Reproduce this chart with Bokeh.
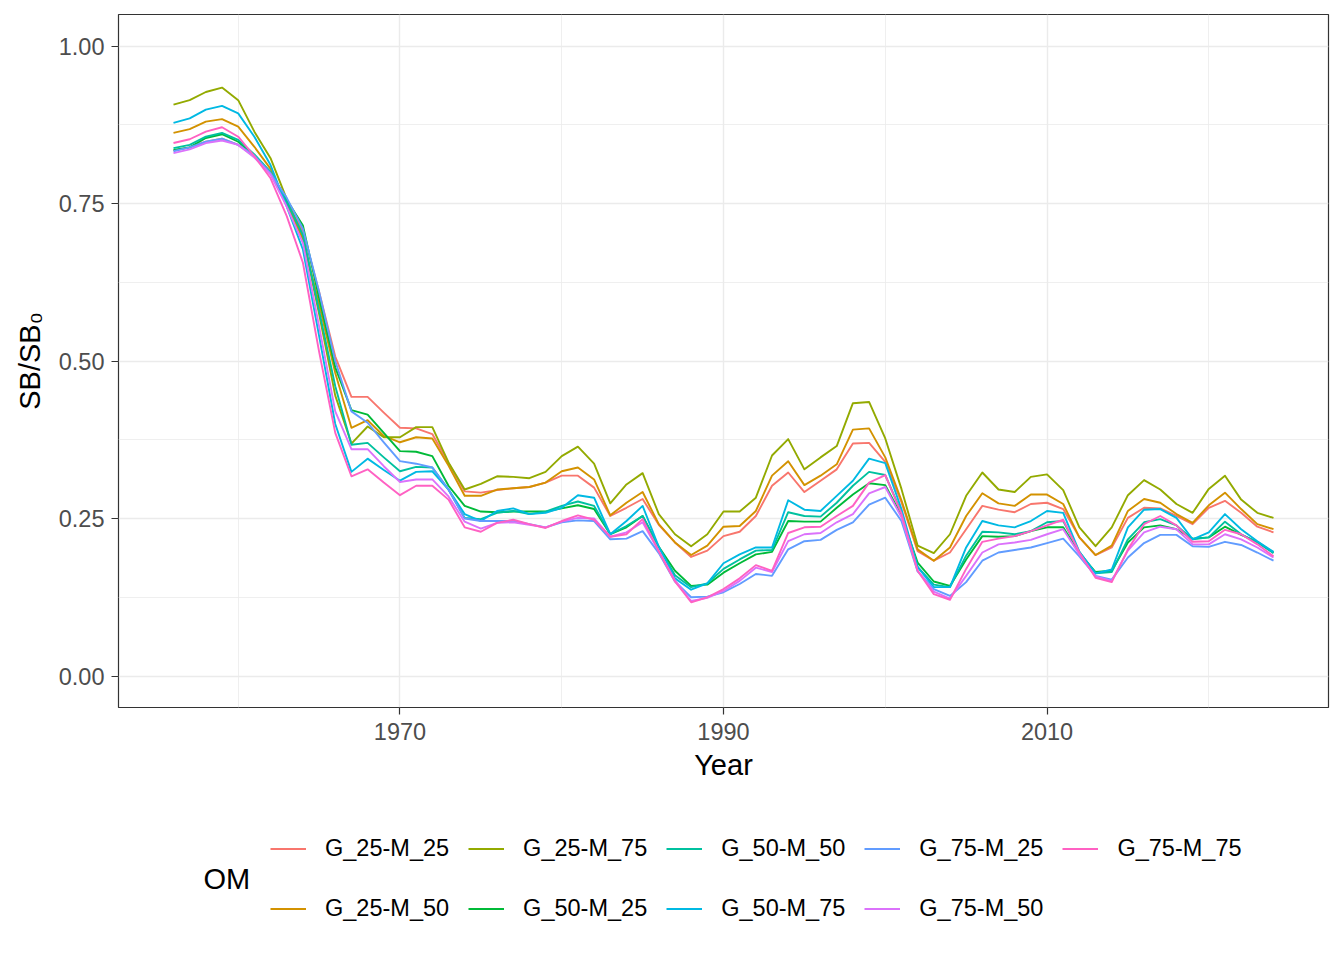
from bokeh.plotting import figure
from bokeh.models import (Range1d, FixedTicker, NumeralTickFormatter, Legend, LegendItem, Label)
from bokeh.layouts import column
from bokeh.embed import file_html
from bokeh.resources import INLINE

years = list(range(1956, 2025))

om_names = ["G_25-M_25", "G_25-M_50", "G_25-M_75", "G_50-M_25", "G_50-M_50",
            "G_50-M_75", "G_75-M_25", "G_75-M_50", "G_75-M_75"]
om_colors = ["#F8766D", "#D39200", "#93AA00", "#00BA38", "#00C19F",
             "#00B9E3", "#619CFF", "#DB72FB", "#FF61C3"]

g25_m25 = [0.834, 0.839, 0.848, 0.853, 0.843, 0.825, 0.797, 0.752, 0.706, 0.610,
           0.507, 0.443, 0.443, 0.418, 0.394, 0.393, 0.384, 0.338, 0.293, 0.291,
           0.295, 0.298, 0.300, 0.307, 0.318, 0.318, 0.299, 0.254, 0.267, 0.281,
           0.240, 0.212, 0.189, 0.199, 0.222, 0.229, 0.254, 0.302, 0.323, 0.292,
           0.310, 0.328, 0.369, 0.370, 0.340, 0.276, 0.198, 0.183, 0.196, 0.233,
           0.270, 0.264, 0.260, 0.273, 0.275, 0.265, 0.220, 0.192, 0.204, 0.251,
           0.267, 0.266, 0.254, 0.241, 0.267, 0.278, 0.259, 0.237, 0.228]
g25_m50 = [0.862, 0.868, 0.880, 0.884, 0.872, 0.840, 0.805, 0.750, 0.693, 0.590,
           0.481, 0.394, 0.406, 0.381, 0.371, 0.379, 0.377, 0.334, 0.286, 0.286,
           0.296, 0.298, 0.300, 0.307, 0.325, 0.331, 0.312, 0.255, 0.275, 0.292,
           0.241, 0.212, 0.192, 0.207, 0.237, 0.238, 0.262, 0.318, 0.341, 0.303,
           0.318, 0.336, 0.391, 0.393, 0.347, 0.279, 0.201, 0.183, 0.204, 0.254,
           0.290, 0.274, 0.270, 0.288, 0.288, 0.273, 0.220, 0.192, 0.207, 0.262,
           0.281, 0.275, 0.257, 0.243, 0.271, 0.291, 0.265, 0.241, 0.233]
g25_m75 = [0.907, 0.914, 0.927, 0.934, 0.914, 0.864, 0.822, 0.757, 0.698, 0.575,
           0.445, 0.369, 0.396, 0.379, 0.379, 0.395, 0.395, 0.339, 0.296, 0.305,
           0.317, 0.316, 0.314, 0.324, 0.349, 0.364, 0.337, 0.274, 0.304, 0.322,
           0.257, 0.225, 0.206, 0.225, 0.261, 0.261, 0.283, 0.350, 0.376, 0.328,
           0.347, 0.365, 0.433, 0.435, 0.377, 0.297, 0.207, 0.195, 0.225, 0.286,
           0.323, 0.296, 0.292, 0.316, 0.320, 0.295, 0.236, 0.206, 0.236, 0.287,
           0.311, 0.296, 0.273, 0.259, 0.297, 0.318, 0.280, 0.259, 0.251]
g50_m25 = [0.835, 0.839, 0.854, 0.860, 0.848, 0.826, 0.798, 0.756, 0.715, 0.600,
           0.490, 0.422, 0.415, 0.386, 0.357, 0.356, 0.349, 0.302, 0.270, 0.261,
           0.260, 0.261, 0.261, 0.261, 0.266, 0.271, 0.265, 0.225, 0.236, 0.254,
           0.205, 0.167, 0.143, 0.145, 0.164, 0.179, 0.193, 0.197, 0.246, 0.245,
           0.245, 0.267, 0.288, 0.306, 0.303, 0.255, 0.180, 0.150, 0.143, 0.185,
           0.222, 0.221, 0.222, 0.230, 0.236, 0.236, 0.195, 0.165, 0.167, 0.212,
           0.236, 0.239, 0.233, 0.218, 0.220, 0.237, 0.224, 0.213, 0.196]
g50_m50 = [0.838, 0.843, 0.856, 0.862, 0.851, 0.828, 0.800, 0.752, 0.700, 0.580,
           0.460, 0.367, 0.370, 0.347, 0.325, 0.332, 0.331, 0.296, 0.251, 0.249,
           0.259, 0.262, 0.257, 0.261, 0.270, 0.277, 0.270, 0.225, 0.238, 0.254,
           0.205, 0.160, 0.141, 0.147, 0.170, 0.185, 0.199, 0.200, 0.260, 0.254,
           0.253, 0.275, 0.302, 0.324, 0.319, 0.260, 0.173, 0.145, 0.141, 0.191,
           0.229, 0.228, 0.225, 0.230, 0.244, 0.246, 0.197, 0.163, 0.165, 0.217,
           0.244, 0.249, 0.239, 0.217, 0.220, 0.245, 0.225, 0.212, 0.195]
g50_m75 = [0.878, 0.885, 0.899, 0.905, 0.893, 0.856, 0.811, 0.745, 0.677, 0.540,
           0.400, 0.324, 0.345, 0.327, 0.310, 0.324, 0.325, 0.296, 0.257, 0.246,
           0.262, 0.266, 0.257, 0.259, 0.267, 0.287, 0.283, 0.225, 0.246, 0.270,
           0.205, 0.155, 0.137, 0.147, 0.179, 0.193, 0.204, 0.204, 0.279, 0.264,
           0.262, 0.286, 0.310, 0.345, 0.338, 0.265, 0.173, 0.141, 0.141, 0.204,
           0.246, 0.239, 0.236, 0.246, 0.262, 0.259, 0.197, 0.163, 0.169, 0.236,
           0.264, 0.265, 0.251, 0.217, 0.228, 0.257, 0.233, 0.214, 0.197]
g75_m25 = [0.833, 0.839, 0.848, 0.853, 0.843, 0.826, 0.798, 0.759, 0.710, 0.610,
           0.500, 0.420, 0.402, 0.371, 0.341, 0.337, 0.331, 0.296, 0.250, 0.246,
           0.246, 0.246, 0.241, 0.236, 0.244, 0.247, 0.246, 0.217, 0.218, 0.230,
           0.195, 0.150, 0.125, 0.126, 0.133, 0.146, 0.162, 0.159, 0.201, 0.214,
           0.216, 0.232, 0.244, 0.272, 0.283, 0.246, 0.166, 0.138, 0.127, 0.149,
           0.183, 0.196, 0.200, 0.204, 0.211, 0.218, 0.190, 0.159, 0.153, 0.188,
           0.211, 0.224, 0.224, 0.206, 0.205, 0.213, 0.208, 0.196, 0.183]
g75_m50 = [0.830, 0.836, 0.846, 0.850, 0.843, 0.823, 0.796, 0.745, 0.687, 0.555,
           0.420, 0.360, 0.360, 0.333, 0.308, 0.312, 0.312, 0.285, 0.245, 0.234,
           0.243, 0.244, 0.240, 0.236, 0.245, 0.251, 0.250, 0.221, 0.228, 0.244,
           0.198, 0.152, 0.119, 0.124, 0.135, 0.151, 0.172, 0.165, 0.214, 0.225,
           0.227, 0.244, 0.257, 0.290, 0.300, 0.252, 0.167, 0.134, 0.123, 0.159,
           0.196, 0.209, 0.212, 0.216, 0.225, 0.233, 0.193, 0.158, 0.151, 0.199,
           0.228, 0.237, 0.233, 0.209, 0.209, 0.225, 0.217, 0.204, 0.188]
g75_m75 = [0.846, 0.852, 0.864, 0.871, 0.856, 0.825, 0.790, 0.730, 0.656, 0.515,
           0.386, 0.317, 0.328, 0.307, 0.287, 0.302, 0.302, 0.280, 0.236, 0.229,
           0.243, 0.248, 0.241, 0.235, 0.246, 0.255, 0.248, 0.221, 0.225, 0.249,
           0.198, 0.150, 0.117, 0.125, 0.138, 0.155, 0.176, 0.167, 0.227, 0.236,
           0.237, 0.254, 0.270, 0.307, 0.319, 0.258, 0.167, 0.130, 0.121, 0.170,
           0.213, 0.218, 0.222, 0.230, 0.239, 0.248, 0.196, 0.156, 0.149, 0.201,
           0.241, 0.254, 0.239, 0.213, 0.214, 0.232, 0.225, 0.209, 0.190]

series = [g25_m25, g25_m50, g25_m75, g50_m25, g50_m50, g50_m75, g75_m25, g75_m50, g75_m75]

x_major = [1970, 1990, 2010]
x_minor = [1960, 1980, 2000, 2020]
y_major = [0.0, 0.25, 0.5, 0.75, 1.0]
y_minor = [0.125, 0.375, 0.625, 0.875]

FONT = "Liberation Sans"
W = 1336

p = figure(width=W, height=800, output_backend="svg", toolbar_location=None,
           x_range=Range1d(1952.6, 2027.4), y_range=Range1d(-0.05, 1.05),
           min_border_left=118, min_border_right=8, min_border_top=14, min_border_bottom=93)
p.background_fill_color = "white"
p.border_fill_color = "white"
p.outline_line_color = "#333333"
p.outline_line_width = 1.2

p.xaxis.ticker = FixedTicker(ticks=x_major, minor_ticks=x_minor)
p.yaxis.ticker = FixedTicker(ticks=y_major, minor_ticks=y_minor)
p.yaxis.formatter = NumeralTickFormatter(format="0.00")

for ax in (p.xaxis, p.yaxis):
    ax.axis_line_color = None
    ax.major_tick_line_color = "#333333"
    ax.major_tick_line_width = 1.2
    ax.major_tick_out = 7
    ax.major_tick_in = 0
    ax.minor_tick_line_color = None
    ax.major_label_text_font = FONT
    ax.major_label_text_font_size = "23.5px"
    ax.major_label_text_color = "#4D4D4D"
    ax.axis_label_text_font = FONT
    ax.axis_label_text_font_size = "29px"
    ax.axis_label_text_font_style = "normal"
    ax.axis_label_text_color = "black"

p.xaxis.axis_label = "Year"
p.yaxis.axis_label = "SB/SB\u2080"
p.xaxis.major_label_standoff = 8
p.xaxis.axis_label_standoff = 6
p.yaxis.major_label_standoff = 7
p.yaxis.axis_label_standoff = 10

for g in (p.xgrid, p.ygrid):
    g.grid_line_color = "#EBEBEB"
    g.grid_line_width = 1.4
    g.minor_grid_line_color = "#EBEBEB"
    g.minor_grid_line_width = 0.8

for name, col, vals in zip(om_names, om_colors, series):
    p.line(years, vals, line_color=col, line_width=1.9, line_join="round")

# legend strip below the plot (its frame is aligned with the plot frame by the column layout)
leg = figure(width=W, height=150, output_backend="svg", toolbar_location=None,
             x_range=Range1d(0, 1), y_range=Range1d(0, 1),
             x_axis_type=None, y_axis_type=None,
             min_border_left=0, min_border_right=0, min_border_top=0, min_border_bottom=0)
leg.outline_line_color = None
leg.background_fill_color = "white"
leg.border_fill_color = "white"
leg.xgrid.visible = False
leg.ygrid.visible = False

nan = float("nan")
items = []
for name, col in zip(om_names, om_colors):
    r = leg.line([nan, nan], [nan, nan], line_color=col, line_width=2)
    items.append(LegendItem(label=name, renderers=[r]))

legend = Legend(items=items, orientation="vertical", nrows=2,
                location=(152, 21), glyph_width=36, glyph_height=41,
                label_standoff=19, spacing=19, padding=0, margin=0,
                border_line_color=None, background_fill_alpha=0,
                label_text_font=FONT, label_text_font_size="23.5px",
                label_text_color="black")
leg.add_layout(legend, "center")

om_title = Label(x=85, y=72, x_units="screen", y_units="screen", text="OM",
                 text_font=FONT, text_font_size="29px", text_color="black",
                 text_baseline="middle", text_align="left")
leg.add_layout(om_title)

layout = column(p, leg, spacing=0)
open("out.html", "w").write(file_html(layout, INLINE))
